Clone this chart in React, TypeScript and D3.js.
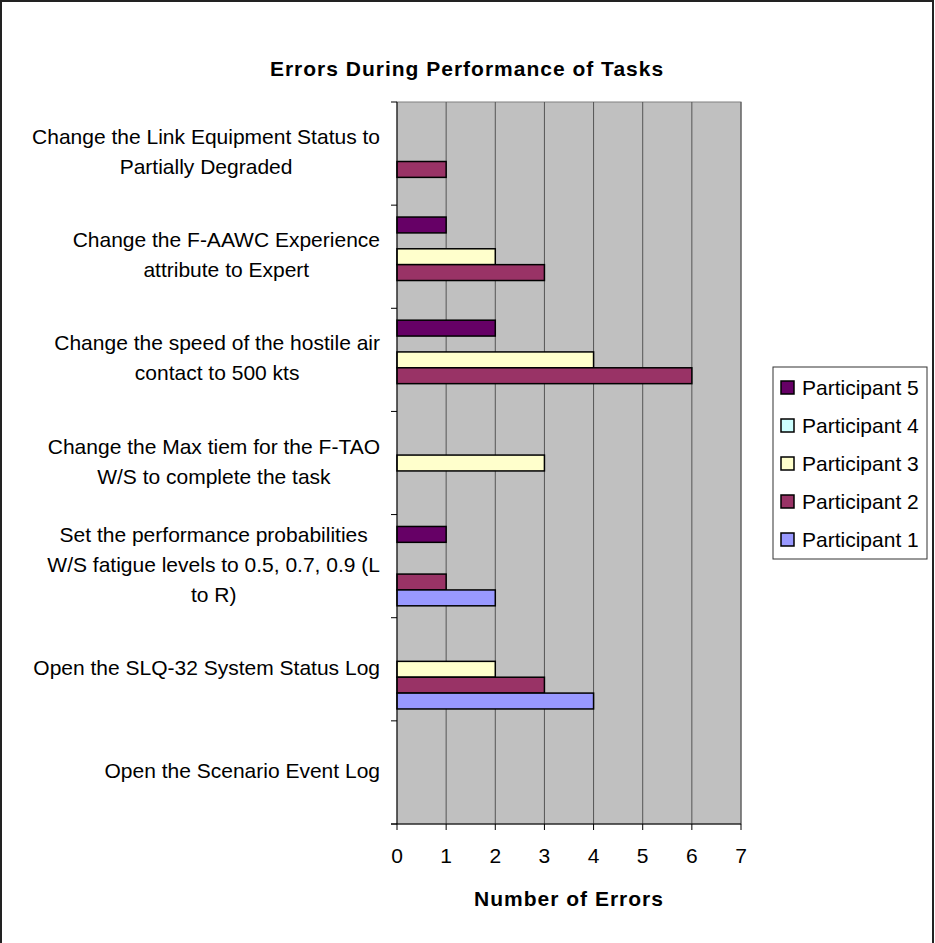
import React, { useEffect, useRef } from "react";
import * as d3 from "d3";

const categories: string[][] = [
  ["Change the Link Equipment Status to", "Partially Degraded"],
  ["Change the F-AAWC Experience", "attribute to Expert"],
  ["Change the speed of the hostile air", "contact to 500 kts"],
  ["Change the Max tiem for the F-TAO", "W/S to complete the task"],
  ["Set the performance probabilities", "W/S fatigue levels to 0.5, 0.7, 0.9 (L", "to R)"],
  ["Open the SLQ-32 System Status Log"],
  ["Open the Scenario Event Log"],
];

const seriesNames = ["Participant 5", "Participant 4", "Participant 3", "Participant 2", "Participant 1"];
const participant5 = [0, 1, 2, 0, 1, 0, 0];
const participant4 = [0, 0, 0, 0, 0, 0, 0];
const participant3 = [0, 2, 4, 3, 0, 2, 0];
const participant2 = [1, 3, 6, 0, 1, 3, 0];
const participant1 = [0, 0, 0, 0, 2, 4, 0];
const seriesColors = ["#660066", "#CCFFFF", "#FFFFCC", "#993366", "#9999FF"];
const xTicks = [0, 1, 2, 3, 4, 5, 6, 7];

const title = "Errors During Performance of Tasks";
const xTitle = "Number of Errors";

export default function App() {
  const ref = useRef<SVGSVGElement | null>(null);

  useEffect(() => {
    const svg = d3.select(ref.current);
    svg.selectAll("*").remove();
    const W = 935, H = 943;
    const left = 397, right = 741, top = 102, bottom = 824;
    const font = "'Liberation Sans', Arial, sans-serif";
    const values = [participant5, participant4, participant3, participant2, participant1];

    svg.append("rect").attr("x", 0).attr("y", 0).attr("width", W).attr("height", H).attr("fill", "#fff");
    svg.append("rect").attr("x", 1).attr("y", 1).attr("width", 932).attr("height", H + 10)
      .attr("fill", "none").attr("stroke", "#222").attr("stroke-width", 2);

    const x = d3.scaleLinear().domain([0, 7]).range([left, right]);
    const y = d3.scaleBand<number>().domain(d3.range(categories.length)).range([top, bottom]).padding(0);
    const ys = d3.scaleBand<number>().domain(d3.range(5)).range([0, y.bandwidth()])
      .paddingInner(0).paddingOuter(0.75);

    // plot area
    svg.append("rect").attr("x", left).attr("y", top).attr("width", right - left).attr("height", bottom - top)
      .attr("fill", "#C0C0C0").attr("stroke", "#808080").attr("stroke-width", 1);

    // gridlines
    svg.append("g").selectAll("line").data(xTicks.slice(1)).join("line")
      .attr("x1", d => x(d)).attr("x2", d => x(d)).attr("y1", top).attr("y2", bottom)
      .attr("stroke", "#555").attr("stroke-width", 1);

    // bars
    const bars: { c: number; s: number; v: number }[] = [];
    values.forEach((arr, s) => arr.forEach((v, c) => { if (v > 0) bars.push({ c, s, v }); }));
    svg.append("g").selectAll("rect").data(bars).join("rect")
      .attr("x", x(0))
      .attr("y", d => (y(d.c) as number) + (ys(d.s) as number))
      .attr("width", d => x(d.v) - x(0))
      .attr("height", ys.bandwidth())
      .attr("fill", d => seriesColors[d.s])
      .attr("stroke", "#000").attr("stroke-width", 1.5);

    // axes
    svg.append("line").attr("x1", left).attr("x2", left).attr("y1", top).attr("y2", bottom)
      .attr("stroke", "#000").attr("stroke-width", 1);
    svg.append("line").attr("x1", left - 6).attr("x2", right).attr("y1", bottom).attr("y2", bottom)
      .attr("stroke", "#000").attr("stroke-width", 1);
    svg.append("g").selectAll("line").data(d3.range(categories.length + 1)).join("line")
      .attr("x1", left - 6).attr("x2", left)
      .attr("y1", d => top + d * y.step()).attr("y2", d => top + d * y.step())
      .attr("stroke", "#000");
    svg.append("g").selectAll("line").data(xTicks).join("line")
      .attr("x1", d => x(d)).attr("x2", d => x(d)).attr("y1", bottom).attr("y2", bottom + 6)
      .attr("stroke", "#000");
    svg.append("g").selectAll("text").data(xTicks).join("text")
      .attr("x", d => x(d)).attr("y", 855).attr("dominant-baseline", "central")
      .attr("text-anchor", "middle").attr("font-family", font).attr("font-size", 21)
      .text(d => String(d));

    // category labels
    const lineH = 30;
    categories.forEach((lines, c) => {
      const cy = (y(c) as number) + y.bandwidth() / 2 - 2;
      const g = svg.append("g");
      const texts = g.selectAll("text").data(lines).join("text")
        .attr("y", (_, i) => cy + (i - (lines.length - 1) / 2) * lineH)
        .attr("dominant-baseline", "central")
        .attr("text-anchor", "middle").attr("font-family", font).attr("font-size", 21)
        .text(d => d);
      let maxW = 0;
      texts.each(function () {
        maxW = Math.max(maxW, (this as SVGTextElement).getComputedTextLength());
      });
      texts.attr("x", 380 - maxW / 2);
    });

    // titles
    svg.append("text").attr("x", 467).attr("y", 68).attr("dominant-baseline", "central")
      .attr("text-anchor", "middle").attr("font-family", font).attr("font-size", 21)
      .attr("font-weight", "bold").attr("letter-spacing", 1).text(title);
    svg.append("text").attr("x", (left + right) / 2).attr("y", 898).attr("dominant-baseline", "central")
      .attr("text-anchor", "middle").attr("font-family", font).attr("font-size", 21)
      .attr("font-weight", "bold").attr("letter-spacing", 1).text(xTitle);

    // legend
    const lg = svg.append("g");
    lg.append("rect").attr("x", 773).attr("y", 367).attr("width", 154).attr("height", 192)
      .attr("fill", "#fff").attr("stroke", "#333").attr("stroke-width", 1);
    const ly = d3.scalePoint<number>().domain(d3.range(5)).range([387, 539]);
    seriesNames.forEach((name, i) => {
      lg.append("rect").attr("x", 781).attr("y", (ly(i) as number) - 6).attr("width", 13).attr("height", 13)
        .attr("fill", seriesColors[i]).attr("stroke", "#000").attr("stroke-width", 1.5);
      lg.append("text").attr("x", 802).attr("y", ly(i) as number).attr("dominant-baseline", "central")
        .attr("font-family", font).attr("font-size", 21).text(name);
    });
  }, []);

  return (
    <svg ref={ref} width={935} height={943}
      style={{ position: "absolute", left: 0, top: 0, display: "block" }} />
  );
}
